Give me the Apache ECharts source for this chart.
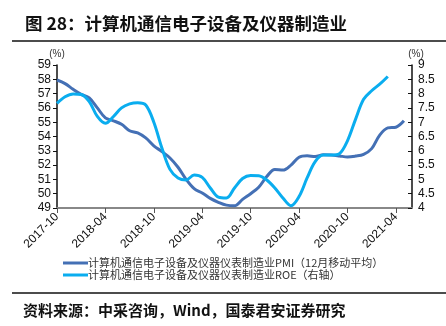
<!DOCTYPE html>
<html><head><meta charset="utf-8">
<script src="https://cdn.jsdelivr.net/npm/echarts@6/dist/echarts.min.js"></script>
<style>html,body{margin:0;padding:0;background:#fff}#c{width:446px;height:326px}</style>
</head><body><div id="c"></div>
<script>
var months = ['2017-10','2017-11','2017-12','2018-01','2018-02','2018-03','2018-04','2018-05','2018-06','2018-07','2018-08','2018-09','2018-10','2018-11','2018-12','2019-01','2019-02','2019-03','2019-04','2019-05','2019-06','2019-07','2019-08','2019-09','2019-10','2019-11','2019-12','2020-01','2020-02','2020-03','2020-04','2020-05','2020-06','2020-07','2020-08','2020-09','2020-10','2020-11','2020-12','2021-01','2021-02','2021-03','2021-04','2021-05','2021-06'];
var pmiName = '计算机通信电子设备及仪器仪表制造业PMI（12月移动平均）';
var roeName = '计算机通信电子设备及仪器仪表制造业ROE（右轴）';
var pmi = [57.95,57.7,57.3,56.95,56.7,56.0,55.3,55.1,54.85,54.4,54.25,53.9,53.35,52.95,52.5,51.85,51.0,50.35,50.05,49.67,49.4,49.2,49.15,49.6,50.0,50.45,51.2,51.7,51.65,52.0,52.55,52.65,52.6,52.72,52.7,52.64,52.57,52.63,52.75,53.15,54.1,54.6,54.65,55.1];
var roe = [7.66,7.89,7.99,7.97,7.72,7.2,6.96,7.2,7.5,7.64,7.68,7.6,7.0,6.1,5.35,5.05,4.98,5.15,5.07,4.7,4.38,4.35,4.7,5.03,5.14,5.13,4.98,4.7,4.35,4.08,4.4,5.05,5.62,5.85,5.85,5.9,6.35,7.1,7.8,8.1,8.33,8.6];
var leftTicks = {min:49, max:59, interval:1};
var rightTicks = {min:4, max:9, interval:0.5};
var titleText = '图 28：计算机通信电子设备及仪器制造业';
var sourceText = '资料来源：中采咨询，Wind，国泰君安证券研究';

var chart = echarts.init(document.getElementById('c'));
var axisFont = {fontFamily:'Liberation Sans, Arial, sans-serif', fontSize:12, color:'#111'};
chart.setOption({
  animation:false,
  grid:{left:57, right:34, top:65, bottom:118},
  legend:{
    orient:'vertical', left:63, top:257, icon:'rect', itemWidth:25, itemHeight:3, itemGap:0, padding:0,
    textStyle:{fontFamily:'Noto Sans CJK SC', fontSize:11, lineHeight:12, color:'#333', padding:[0,0,0,-5]},
    data:[pmiName, roeName]
  },
  xAxis:{
    type:'category', data:months, boundaryGap:false,
    axisLine:{lineStyle:{color:'#888', width:2}},
    axisTick:{show:true, interval:5, length:5, lineStyle:{color:'#555'}, alignWithLabel:true},
    axisLabel:{interval:5, rotate:45, margin:7, fontFamily:axisFont.fontFamily, fontSize:12, color:'#111'}
  },
  yAxis:[
    {type:'value', min:leftTicks.min, max:leftTicks.max, interval:leftTicks.interval,
     name:'(%)', nameGap:5, nameTextStyle:{fontSize:10, color:'#333', padding:[0,0,0,0]},
     splitLine:{show:false},
     axisLine:{show:true, lineStyle:{color:'#111', width:1.5}},
     axisTick:{show:true, length:4, lineStyle:{color:'#111'}},
     axisLabel:Object.assign({margin:6}, axisFont)},
    {type:'value', min:rightTicks.min, max:rightTicks.max, interval:rightTicks.interval, position:'right',
     name:'(%)', nameGap:5, nameTextStyle:{fontSize:10, color:'#333', padding:[0,0,0,8]},
     splitLine:{show:false},
     axisLine:{show:true, lineStyle:{color:'#111', width:1.5}},
     axisTick:{show:true, inside:true, length:4, lineStyle:{color:'#111'}},
     axisLabel:Object.assign({margin:6}, axisFont)}
  ],
  series:[
    {name:pmiName, type:'line', data:pmi, yAxisIndex:0, smooth:0.35, symbol:'none',
     lineStyle:{color:'#4470B5', width:3}, itemStyle:{color:'#4470B5'}},
    {name:roeName, type:'line', data:roe, yAxisIndex:1, smooth:0.35, symbol:'none',
     lineStyle:{color:'#0AADEF', width:3}, itemStyle:{color:'#0AADEF'}}
  ],
  graphic:[
    {type:'text', left:25, top:15, style:{text:titleText, font:'bold 17.5px "Noto Sans CJK SC"', fill:'#111'}},
    {type:'line', shape:{x1:12, y1:41, x2:446, y2:41}, style:{stroke:'#111', lineWidth:1.5}},
    {type:'line', shape:{x1:12, y1:293, x2:446, y2:293}, style:{stroke:'#111', lineWidth:1.5}},
    {type:'text', left:23, top:303, style:{text:sourceText, font:'bold 15px "Noto Sans CJK SC"', fill:'#111'}}
  ]
});
</script></body></html>
